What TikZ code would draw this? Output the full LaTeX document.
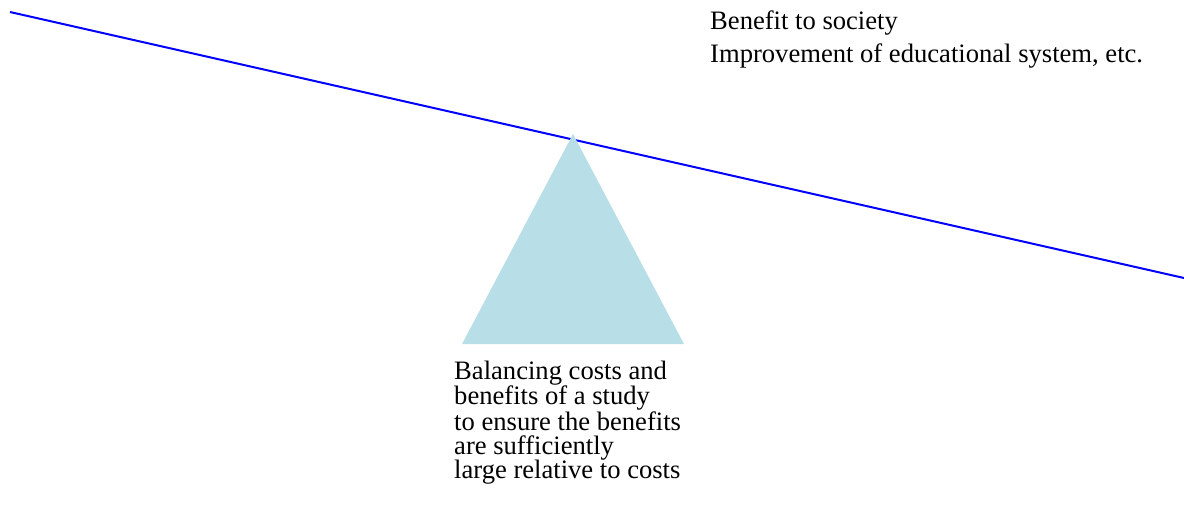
\documentclass[tikz,border=0pt]{standalone}
\usepackage{fontspec}
\setmainfont{Liberation Serif}
\definecolor{beamblue}{RGB}{0,0,255}
\definecolor{pivotfill}{RGB}{184,222,231}
\begin{document}
\begin{tikzpicture}[x=1pt,y=-1pt,
  beam/.style={draw=beamblue,line width=2pt},
  pivot/.style={fill=pivotfill,draw=none},
  caption/.style={anchor=north west,inner sep=0pt,align=left,
    font=\fontsize{26.6}{#1}\selectfont},
  caption/.default=24.4]
  \useasboundingbox (0,0) rectangle (1184,509);
  % lever
  \coordinate (beamL) at (10,12);
  \coordinate (beamR) at (1184,278);
  \draw[beam] (beamL) -- (beamR);
  % fulcrum
  \coordinate (apex) at (573,134);
  \coordinate (baseL) at (462,344);
  \coordinate (baseR) at (684,344);
  \fill[pivot] (apex) -- (baseR) -- (baseL) -- cycle;
  % labels
  \node[caption=33] (benefits) at (710,11)
    {Benefit to society\\Improvement of educational system, etc.};
  \node[caption] (balance) at (454,360.5)
    {Balancing costs and\\benefits of a study\\to ensure the benefits\\are sufficiently\\large relative to costs};
\end{tikzpicture}
\end{document}
